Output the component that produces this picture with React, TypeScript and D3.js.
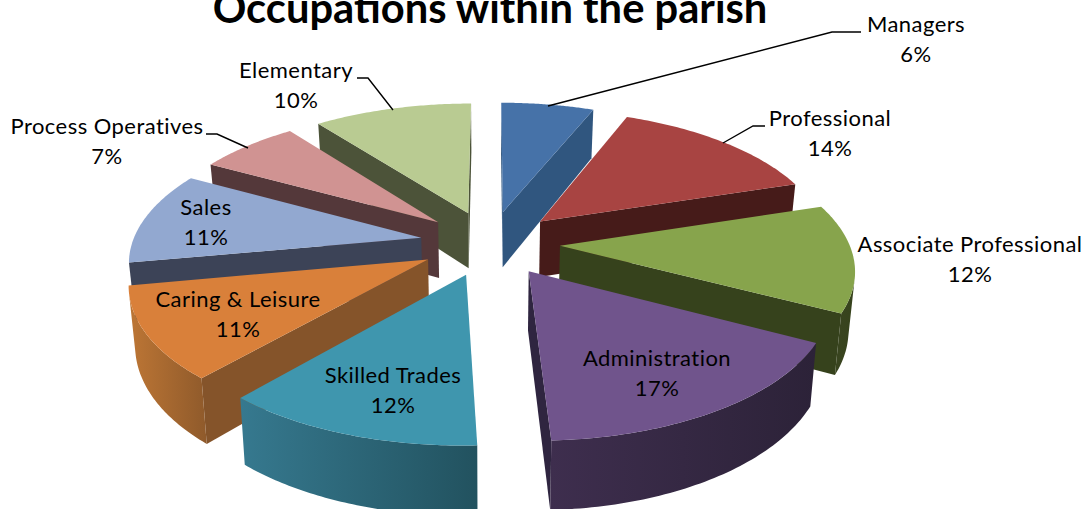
import React from "react";
import * as d3 from "d3";

const title = "Occupations within the parish";
const categories = ["Managers", "Professional", "Associate Professional", "Administration", "Skilled Trades", "Caring & Leisure", "Sales", "Process Operatives", "Elementary"];
const values = [6.1, 14, 12.6, 16.6, 12.1, 10.7, 10.9, 6.6, 10.4];
const percentLabels = ["6%", "14%", "12%", "17%", "12%", "11%", "11%", "7%", "10%"];
const topColors = ["#4672a8", "#a84442", "#87a44c", "#70548c", "#3f96ae", "#d9803a", "#92a8d0", "#d09392", "#b9cb92"];
const cutColors = ["#30567f", "#461b19", "#36421c", "#2f2540", "#2f6a7c", "#85542a", "#3c4357", "#54383a", "#4c5339"];
const wallLeft = ["#30567f", "#461b19", "#3a4520", "#3e2e4e", "#36798f", "#bd7635", "#3c4357", "#54383a", "#4c5339"];
const wallRight = ["#30567f", "#461b19", "#36421c", "#2c2238", "#22525f", "#8f5a2b", "#3c4357", "#54383a", "#4c5339"];
const drawOrder = [0, 8, 7, 1, 6, 2, 5, 3, 4];

// layout of labels: [centre x, first-line baseline]
const labelPos: [number, number][] = [[916, 32], [830, 126], [970, 252], [657, 366], [393, 383], [238, 307], [206, 215], [107, 134], [296, 78]];
const leaders: ([number, number][] | null)[] = [
  [[548, 106], [832, 32], [861, 32]],
  [[723, 143], [753, 126], [765, 126]],
  null, null, null, null, null,
  [[248, 148], [217, 134], [206, 134]],
  [[393, 110], [368, 78], [357, 78]],
];

const W = 1085, H = 509;
const cx = 490, cy = 243, R = 289, explode = 70;
const persp = 0.00052, tilt = 0.465, depth = 57;

type Pt = [number, number];
const project = (X: number, Y: number, Z: number): Pt => {
  const s = 1 / (1 + persp * Y);
  const shrink = 1 - 0.018 * (Z / depth);
  return [cx + X * s * shrink, cy - Y * tilt * s + Z * s];
};

const pieGen = d3.pie<number>().sort(null).startAngle(0).endAngle(2 * Math.PI);
const slices = pieGen(values);
const line = d3.line<Pt>().curve(d3.curveLinear);
const closed = (p: Pt[]) => (line(p) ?? "") + "Z";

const area = (p: Pt[]) => d3.polygonArea(p);

function geometry(i: number) {
  const a0 = slices[i].startAngle, a1 = slices[i].endAngle, mid = (a0 + a1) / 2;
  const ox = explode * Math.sin(mid), oy = explode * Math.cos(mid);
  const rim = (a: number, z: number) => project(ox + R * Math.sin(a), oy + R * Math.cos(a), z);
  const apex = (z: number) => project(ox, oy, z);
  const angles = d3.range(0, 61).map((k) => a0 + ((a1 - a0) * k) / 60);
  const top: Pt[] = [apex(0), ...angles.map((a) => rim(a, 0))];
  const startCut: Pt[] = [apex(0), rim(a0, 0), rim(a0, depth), apex(depth)];
  const endCut: Pt[] = [apex(0), rim(a1, 0), rim(a1, depth), apex(depth)];
  const vis = angles.filter((a, k) => {
    if (k === 60) return false;
    const b = angles[k + 1];
    return area([rim(a, 0), rim(b, 0), rim(b, depth), rim(a, depth)]) > 0;
  });
  let wall: Pt[] = [];
  if (vis.length) {
    const last = vis[vis.length - 1] + (a1 - a0) / 60;
    const as = [...vis, last];
    wall = [...as.map((a) => rim(a, 0)), ...as.slice().reverse().map((a) => rim(a, depth))];
  }
  return { top, startCut, endCut, wall };
}

const font = "Lato, 'Open Sans', sans-serif";

export default function App() {
  return (
    <svg width={W} height={H} viewBox={`0 0 ${W} ${H}`} style={{ position: "absolute", left: 0, top: 0, background: "#fff" }}>
      <defs>
        {categories.map((_, i) => {
          const g = geometry(i);
          const xs = g.wall.map((p) => p[0]);
          return (
            <linearGradient key={i} id={`wall${i}`} gradientUnits="userSpaceOnUse" x1={d3.min(xs) ?? 0} x2={d3.max(xs) ?? 1} y1={0} y2={0}>
              <stop offset="0" stopColor={wallLeft[i]} />
              <stop offset="1" stopColor={wallRight[i]} />
            </linearGradient>
          );
        })}
      </defs>
      {drawOrder.map((i) => {
        const g = geometry(i);
        return (
          <g key={i}>
            {area(g.startCut) > 0 && <path d={closed(g.startCut)} fill={cutColors[i]} />}
            {area(g.endCut) < 0 && <path d={closed(g.endCut)} fill={cutColors[i]} />}
            {g.wall.length > 0 && <path d={closed(g.wall)} fill={`url(#wall${i})`} />}
            <path d={closed(g.top)} fill={topColors[i]} />
          </g>
        );
      })}
      {leaders.map((l, i) => l && <path key={i} d={line(l) ?? ""} fill="none" stroke="#000" strokeWidth={1.4} />)}
      <text x={490} y={23} textAnchor="middle" fontFamily={font} fontWeight={700} fontSize={41.7} fill="#000">{title}</text>
      {categories.map((c, i) => (
        <text key={c} textAnchor="middle" fontFamily={font} fontSize={22} letterSpacing={0.45} fill="#000">
          <tspan x={labelPos[i][0]} y={labelPos[i][1]}>{c}</tspan>
          <tspan x={labelPos[i][0]} y={labelPos[i][1] + 30}>{percentLabels[i]}</tspan>
        </text>
      ))}
    </svg>
  );
}
